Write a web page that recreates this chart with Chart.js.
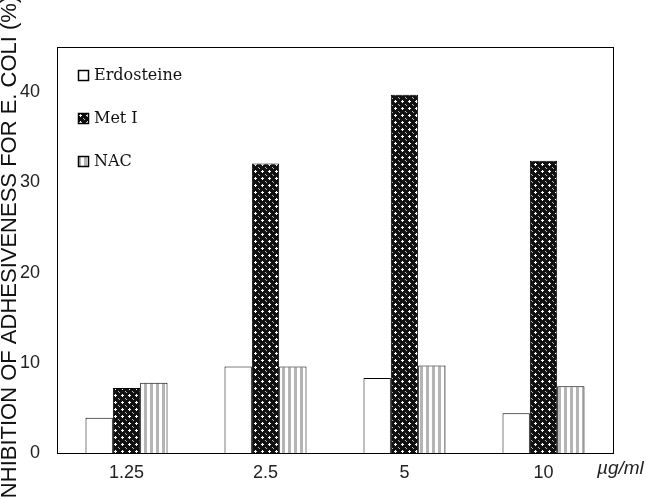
<!DOCTYPE html>
<html>
<head>
<meta charset="utf-8">
<style>
  html, body { margin: 0; padding: 0; background: #fff; }
  #wrap { width: 646px; height: 499px; }
</style>
<script src="https://cdn.jsdelivr.net/npm/chart.js@4"></script>
</head>
<body>
<div id="wrap"><canvas id="adhesionChart" width="646" height="499"></canvas></div>
<script>
// values
const doses = ['1.25', '2.5', '5', '10'];
const erdosteine = [3.9, 9.6, 8.3, 4.4];
const metI = [7.2, 32.1, 39.7, 32.4];
const nac = [7.8, 9.6, 9.7, 7.4];
const yTicks = [0, 10, 20, 30, 40];

function makePattern(kind) {
    const c = document.createElement('canvas');
    const g = c.getContext('2d');
    if (kind === 'check') {
        // black ground with small white crosses
        c.width = 7; c.height = 7;
        g.fillStyle = '#111';
        g.fillRect(0, 0, 7, 7);
        g.fillStyle = '#fff';
        g.fillRect(2, 3, 3, 1);
        g.fillRect(3, 2, 1, 3);
        g.fillStyle = '#bbb';
        g.fillRect(0, 0, 1, 1);
        g.fillRect(6, 6, 1, 1);
    } else {
        c.width = 6; c.height = 6;
        g.fillStyle = '#fff';
        g.fillRect(0, 0, 6, 6);
        g.fillStyle = '#b4b4b4';
        g.fillRect(0, 0, 3, 6);
    }
    return g.createPattern(c, 'repeat');
}

const ctx = document.getElementById('adhesionChart').getContext('2d');
const checkFill = makePattern('check');
const stripeFill = makePattern('stripe');

// frame, inset legend and unit label
const extras = {
    id: 'extras',
    afterDraw(chart) {
        const { ctx, chartArea: a } = chart;
        ctx.save();
        ctx.strokeStyle = '#000';
        ctx.lineWidth = 1;
        ctx.strokeRect(a.left + 0.5, a.top + 0.5, a.right - a.left, a.bottom - a.top);

        let y = 75;
        chart.data.datasets.forEach(ds => {
            ctx.fillStyle = ds.backgroundColor;
            ctx.fillRect(78, y - 5, 11, 11);
            ctx.strokeStyle = '#000';
            ctx.lineWidth = 1.5;
            ctx.strokeRect(78.5, y - 4.5, 10, 10);
            ctx.fillStyle = '#111';
            ctx.font = '16px "DejaVu Serif"';
            ctx.textBaseline = 'middle';
            ctx.textAlign = 'left';
            ctx.fillText(ds.label, 94, y + 1);
            y += 43;
        });

        ctx.font = 'italic 19px "Liberation Sans"';
        ctx.fillStyle = '#222';
        ctx.textAlign = 'left';
        ctx.textBaseline = 'middle';
        ctx.fillText('\u00b5g/ml', 597, 469);
        ctx.restore();
    }
};

new Chart(ctx, {
    type: 'bar',
    data: {
        labels: doses,
        datasets: [
            { label: 'Erdosteine', data: erdosteine, backgroundColor: '#fff' },
            { label: 'Met I', data: metI, backgroundColor: checkFill },
            { label: 'NAC', data: nac, backgroundColor: stripeFill }
        ].map(ds => Object.assign(ds, { borderColor: '#000', borderWidth: 1, borderSkipped: 'bottom' }))
    },
    options: {
        responsive: false,
        animation: false,
        layout: { padding: { top: 47, right: 33, bottom: 0, left: 0 } },
        datasets: { bar: { barPercentage: 1, categoryPercentage: 0.59 } },
        plugins: { legend: { display: false }, tooltip: { enabled: false } },
        scales: {
            x: {
                grid: { display: false },
                border: { display: true, color: '#000' },
                ticks: { color: '#222', font: { family: 'Liberation Sans', size: 18 }, padding: 1 },
                afterFit: s => { s.height = 46; }
            },
            y: {
                min: 0,
                max: 45,
                afterBuildTicks: s => { s.ticks = yTicks.map(v => ({ value: v })); },
                grid: { display: false },
                border: { display: true, color: '#000' },
                ticks: { color: '#222', font: { family: 'Liberation Sans', size: 18 }, padding: 9 },
                title: {
                    display: true,
                    text: 'INHIBITION OF ADHESIVENESS FOR E. COLI (%)',
                    color: '#111',
                    font: { family: 'Liberation Sans', size: 22 },
                    padding: { top: -3, bottom: 0 }
                },
                afterFit: s => { s.width = 57; }
            }
        }
    },
    plugins: [extras]
});
</script>
</body>
</html>
